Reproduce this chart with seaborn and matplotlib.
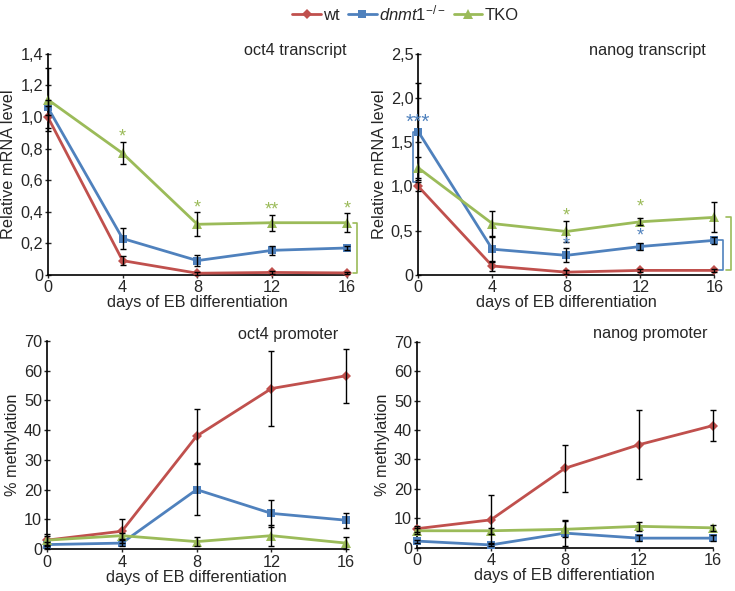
import numpy as np
import pandas as pd
import matplotlib.pyplot as plt
import seaborn as sns
from matplotlib.ticker import FuncFormatter
from matplotlib.lines import Line2D

days = [0, 4, 8, 12, 16]
genotypes = ["wt", "dnmt1", "TKO"]

# oct4 transcript (relative mRNA)
oct4_rna_wt = [1.00, 0.09, 0.01, 0.015, 0.012]
oct4_rna_wt_err = [0.07, 0.03, 0.01, 0.01, 0.005]
oct4_rna_ko = [1.06, 0.23, 0.09, 0.155, 0.17]
oct4_rna_ko_err = [0.05, 0.065, 0.035, 0.03, 0.01]
oct4_rna_tko = [1.11, 0.77, 0.32, 0.33, 0.33]
oct4_rna_tko_err = [0.20, 0.07, 0.075, 0.05, 0.06]

# nanog transcript
nanog_rna_wt = [1.00, 0.10, 0.03, 0.05, 0.05]
nanog_rna_wt_err = [0.05, 0.06, 0.02, 0.02, 0.02]
nanog_rna_ko = [1.62, 0.29, 0.22, 0.32, 0.39]
nanog_rna_ko_err = [0.55, 0.14, 0.08, 0.04, 0.04]
nanog_rna_tko = [1.21, 0.58, 0.49, 0.60, 0.65]
nanog_rna_tko_err = [0.12, 0.14, 0.12, 0.04, 0.17]

# oct4 promoter methylation (%)
oct4_meth_wt = [3.0, 6.0, 38.0, 54.0, 58.3]
oct4_meth_wt_err = [2.0, 4.0, 9.0, 12.5, 9.0]
oct4_meth_ko = [1.5, 2.0, 20.0, 12.0, 9.7]
oct4_meth_ko_err = [1.0, 1.0, 8.5, 4.5, 2.5]
oct4_meth_tko = [3.0, 4.5, 2.5, 4.5, 2.0]
oct4_meth_tko_err = [1.5, 1.0, 1.5, 3.5, 2.0]

# nanog promoter methylation (%)
nanog_meth_wt = [6.5, 9.5, 27.0, 35.0, 41.5]
nanog_meth_wt_err = [1.0, 8.3, 8.0, 11.7, 5.2]
nanog_meth_ko = [2.3, 1.0, 5.0, 3.3, 3.3]
nanog_meth_ko_err = [0.5, 0.5, 4.5, 1.0, 1.0]
nanog_meth_tko = [5.8, 5.8, 6.3, 7.3, 6.8]
nanog_meth_tko_err = [1.0, 1.0, 2.7, 1.5, 1.0]

colors = {"wt": "#C0504D", "dnmt1": "#4F81BD", "TKO": "#9BBB59"}
markers = {"wt": "D", "dnmt1": "s", "TKO": "^"}
msize = {"D": 5.5, "s": 5.5, "^": 7.5}

sns.set_style("ticks")
plt.rcParams["font.family"] = ["Liberation Sans", "DejaVu Sans"]
plt.rcParams["mathtext.fontset"] = "custom"
plt.rcParams["mathtext.it"] = "Liberation Sans:italic"
plt.rcParams["mathtext.rm"] = "Liberation Sans"
FS = 11.7


def comma_fmt(v, pos):
    if abs(v) < 1e-9:
        return "0"
    return f"{v:.1f}".replace(".", ",")


def panel(ax, vals, errs, title, title_xy, ylabel, ylim, yticks, comma):
    df = pd.concat([pd.DataFrame({"day": days, "value": v, "genotype": g})
                    for g, v in zip(genotypes, vals)])
    sns.lineplot(data=df, x="day", y="value", hue="genotype", style="genotype",
                 hue_order=genotypes, palette=colors, markers=markers, dashes=False,
                 markersize=5.5, markeredgewidth=0, linewidth=2.0, ax=ax,
                 legend=False, clip_on=False, zorder=3)
    for ln in ax.lines:
        if ln.get_marker() in msize:
            ln.set_markersize(msize[ln.get_marker()])
    for v, e in zip(vals, errs):
        ax.errorbar(days, v, yerr=e, fmt="none", ecolor="black", elinewidth=1.0,
                    capsize=2.5, capthick=1.0, zorder=4, clip_on=False)
    ax.set_xlim(0, 16)
    ax.set_ylim(*ylim)
    ax.set_xticks(days)
    ax.set_yticks(yticks)
    if comma:
        ax.yaxis.set_major_formatter(FuncFormatter(comma_fmt))
    sns.despine(ax=ax)
    for s in ["left", "bottom"]:
        ax.spines[s].set_color("black")
        ax.spines[s].set_linewidth(1.2)
    ax.tick_params(axis="y", direction="inout", length=5, width=1, labelsize=FS, pad=1)
    ax.tick_params(axis="x", direction="out", length=2, width=1, labelsize=FS, pad=2)
    ax.set_xlabel("days of EB differentiation", fontsize=FS, labelpad=0)
    ax.set_ylabel(ylabel, fontsize=FS, labelpad=3)
    ax.text(title_xy[0], title_xy[1], title, transform=ax.transAxes,
            ha="right", va="center", fontsize=FS)


def bracket(ax, x, y0, y1, color, arm):
    ax.plot([x - arm, x, x, x - arm], [y0, y0, y1, y1], color=color, lw=1.2,
            clip_on=False, zorder=2)


def star(ax, x, y, s, color, size=13):
    ax.text(x, y, s, color=color, fontsize=size, ha="center", va="center", zorder=5)


fig = plt.figure(figsize=(7.35, 5.91), dpi=100)
ax1 = fig.add_axes([0.065, 0.535, 0.407, 0.374])
ax2 = fig.add_axes([0.569, 0.535, 0.403, 0.374])
ax3 = fig.add_axes([0.064, 0.071, 0.407, 0.352])
ax4 = fig.add_axes([0.567, 0.073, 0.403, 0.349])

panel(ax1, [oct4_rna_wt, oct4_rna_ko, oct4_rna_tko],
      [oct4_rna_wt_err, oct4_rna_ko_err, oct4_rna_tko_err],
      "oct4 transcript", (1.0, 1.015), "Relative mRNA level",
      (0, 1.4), np.arange(0, 1.41, 0.2), True)
panel(ax2, [nanog_rna_wt, nanog_rna_ko, nanog_rna_tko],
      [nanog_rna_wt_err, nanog_rna_ko_err, nanog_rna_tko_err],
      "nanog transcript", (0.97, 1.015), "Relative mRNA level",
      (0, 2.5), np.arange(0, 2.51, 0.5), True)
panel(ax3, [oct4_meth_wt, oct4_meth_ko, oct4_meth_tko],
      [oct4_meth_wt_err, oct4_meth_ko_err, oct4_meth_tko_err],
      "oct4 promoter", (0.973, 1.03), "% methylation",
      (0, 70), np.arange(0, 71, 10), False)
panel(ax4, [nanog_meth_wt, nanog_meth_ko, nanog_meth_tko],
      [nanog_meth_wt_err, nanog_meth_ko_err, nanog_meth_tko_err],
      "nanog promoter", (0.98, 1.04), "% methylation",
      (0, 70), np.arange(0, 71, 10), False)

# significance marks, oct4 transcript
g, b = colors["TKO"], colors["dnmt1"]
for i, s in zip([1, 2, 3, 4], ["*", "*", "**", "*"]):
    star(ax1, days[i], oct4_rna_tko[i] + oct4_rna_tko_err[i] + 0.03, s, g)
bracket(ax1, days[-1] + 0.55, oct4_rna_tko[-1], oct4_rna_wt[-1], g, 0.25)

# significance marks, nanog transcript
star(ax2, days[0], nanog_rna_ko[0] + 0.1, "***", b, size=15)
ax2.plot([-0.05, -0.3, -0.3, -0.05],
         [nanog_rna_ko[0], nanog_rna_ko[0], nanog_rna_wt[0] + 0.05, nanog_rna_wt[0] + 0.05],
         color=b, lw=1.2, clip_on=False)
for i in [2, 3]:
    star(ax2, days[i], nanog_rna_tko[i] + 0.17, "*", g)
    star(ax2, days[i], nanog_rna_ko[i] + 0.12, "*", b)
bracket(ax2, days[-1] + 0.45, nanog_rna_ko[-1], nanog_rna_wt[-1], b, 0.25)
bracket(ax2, days[-1] + 0.9, nanog_rna_tko[-1], nanog_rna_wt[-1], g, 0.25)

# legend
handles = [Line2D([], [], color=colors[k], marker=markers[k],
                  markersize=msize[markers[k]], markeredgewidth=0, lw=2)
           for k in genotypes]
labels = ["wt", r"$\mathit{dnmt1}^{\mathit{-/-}}$", "TKO"]
fig.legend(handles, labels, loc="center", bbox_to_anchor=(0.552, 0.978), ncol=3,
           frameon=False, fontsize=12, handlelength=1.7, handletextpad=0.15,
           columnspacing=0.5)

fig.savefig("out.png", dpi=100)
